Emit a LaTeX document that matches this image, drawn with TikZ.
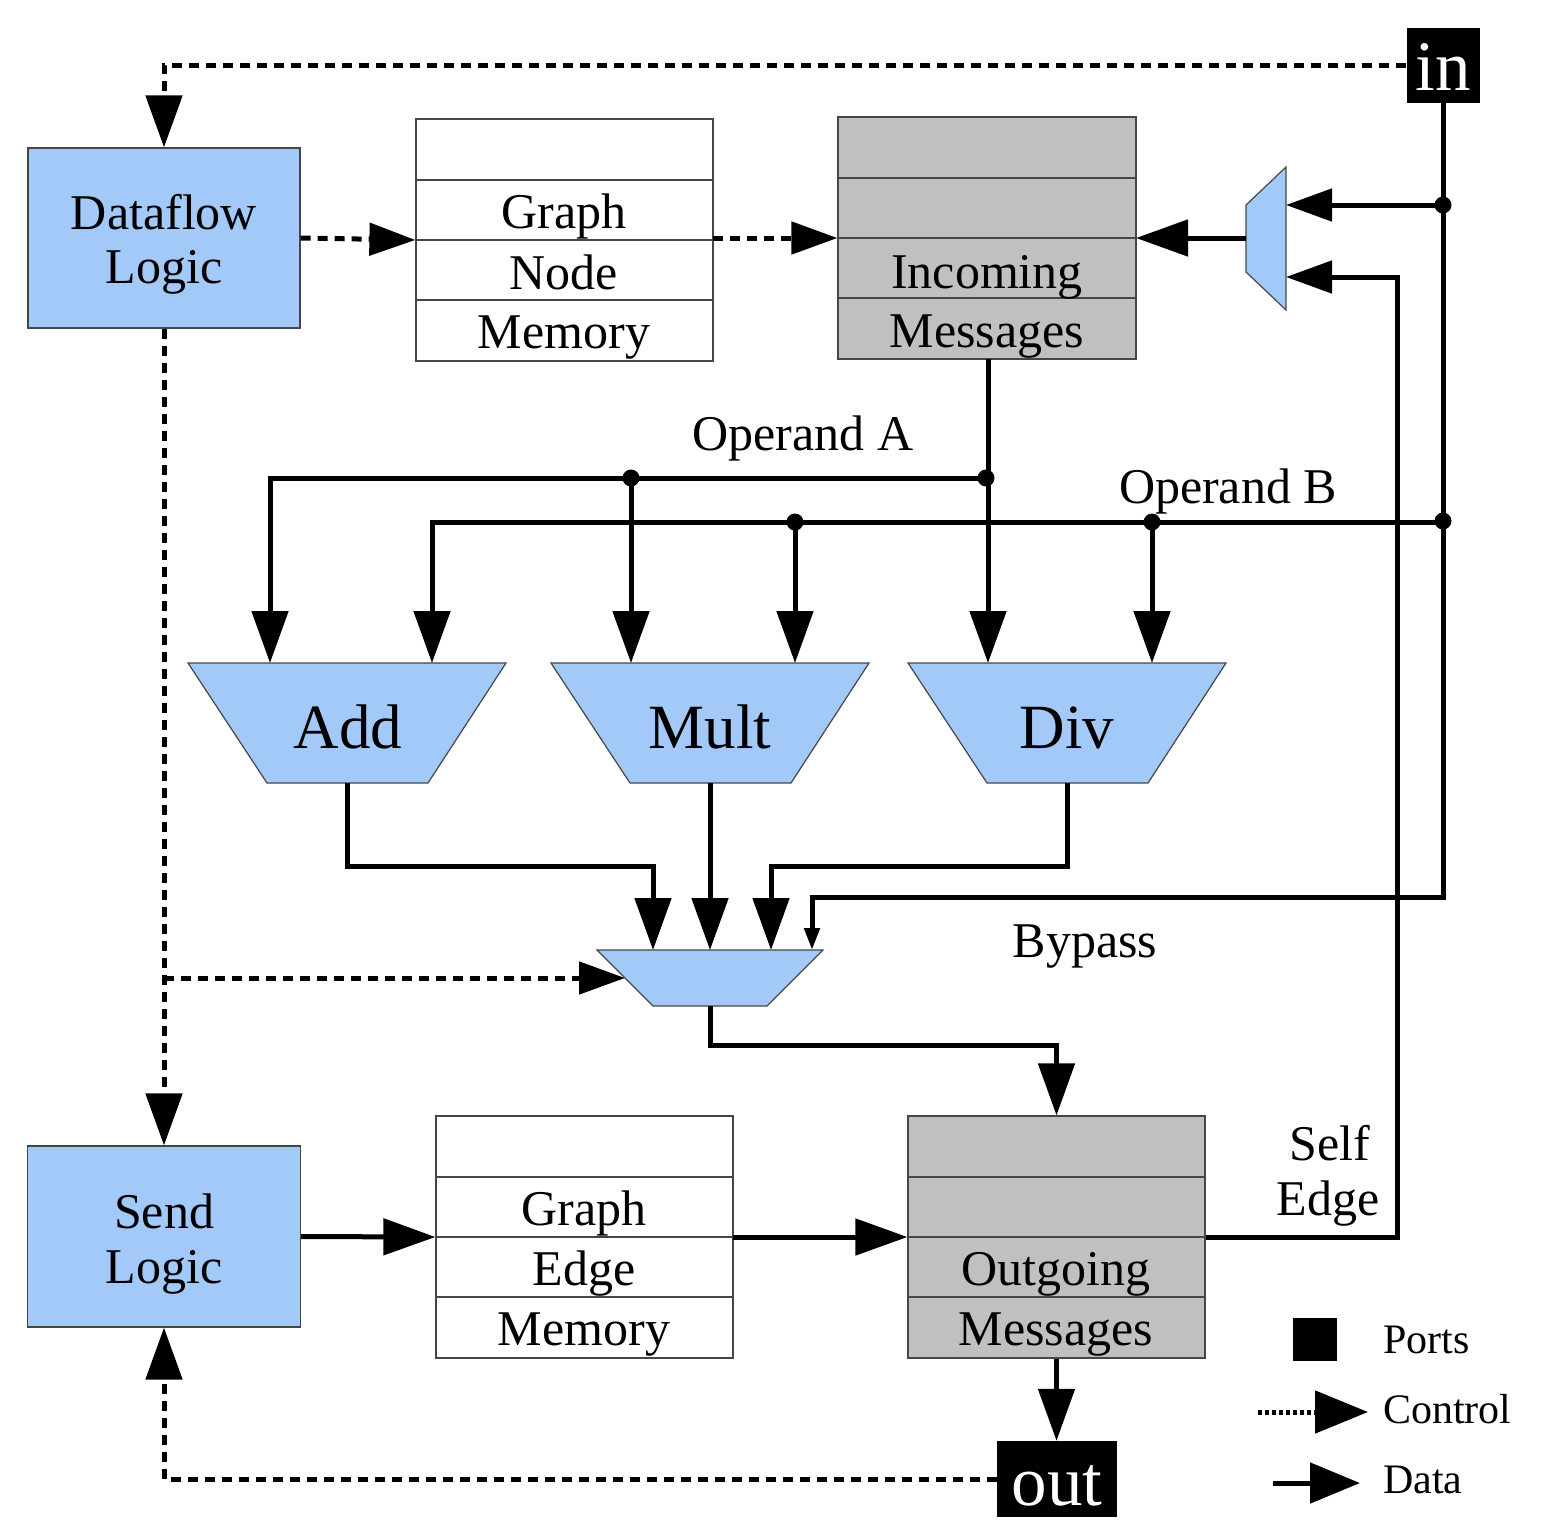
\documentclass[tikz,border=0pt]{standalone}
\usepackage{fontspec}
\setmainfont{Liberation Serif}
\usetikzlibrary{arrows.meta}
\definecolor{boxblue}{RGB}{162,201,248}
\definecolor{msggray}{RGB}{192,192,192}
\definecolor{edgegray}{RGB}{70,70,70}
\begin{document}
\begin{tikzpicture}[x=1pt,y=-1pt,
  bigtip/.tip={Triangle[length=52pt,width=36pt]},
  midtip/.tip={Triangle[length=46pt,width=32pt]},
  smalltip/.tip={Triangle[length=22pt,width=15pt]},
  data/.style={line width=5pt,-bigtip},
  datamid/.style={line width=5pt,-midtip},
  wire/.style={line width=5pt},
  ctrl/.style={line width=5pt,dash pattern=on 10pt off 7pt,-bigtip},
  ctrlmid/.style={line width=5pt,dash pattern=on 10pt off 7pt,-midtip},
  bluebox/.style={draw=edgegray,line width=1.2pt,fill=boxblue,inner sep=0pt},
  tbl/.style={draw=edgegray,line width=1.2pt,fill=white,inner sep=0pt},
  msg/.style={draw=edgegray,line width=1.2pt,fill=msggray,inner sep=0pt},
  rowline/.style={draw=edgegray,line width=1.2pt},
  port/.style={fill=black,inner sep=0pt},
  lbl/.style={font=\fontsize{50}{55}\selectfont,anchor=base,inner sep=0pt},
  biglbl/.style={font=\fontsize{63}{70}\selectfont,anchor=base,inner sep=0pt},
  portlbl/.style={font=\fontsize{71}{75}\selectfont,anchor=base,inner sep=0pt,text=white},
  leglbl/.style={font=\fontsize{42}{46}\selectfont,anchor=base west,inner sep=0pt},
  alu/.style={draw=edgegray,line width=1.2pt,fill=boxblue},
  dot/.style={circle,fill=black,inner sep=0pt,minimum size=17pt}
]
\useasboundingbox (0,0) rectangle (1544,1532);

% ---------- ports ----------
\node[port,minimum width=73pt,minimum height=75pt] (in) at (1443,65) {};
\node[portlbl] (intext) at (1443,90) {in};
\node[port,minimum width=120pt,minimum height=76pt] (out) at (1057,1479) {};
\node[portlbl] (outtext) at (1057,1505) {out};

% ---------- blue logic boxes ----------
\node[bluebox,minimum width=272pt,minimum height=180pt] (df) at (164,238) {};
\node[lbl] (dft1) at (164,229) {Dataflow};
\node[lbl] (dft2) at (164,283) {Logic};
\node[bluebox,minimum width=273pt,minimum height=181pt] (send) at (164,1236.5) {};
\node[lbl] (st1) at (164,1228) {Send};
\node[lbl] (st2) at (164,1283) {Logic};

% ---------- graph node memory ----------
\node[tbl,minimum width=297pt,minimum height=242pt] (gnm) at (564.5,240) {};
\draw[rowline] (416,180) -- (713,180) (416,240) -- (713,240) (416,300) -- (713,300);
\node[lbl] (gnm1) at (564,228) {Graph};
\node[lbl] (gnm2) at (564,289) {Node};
\node[lbl] (gnm3) at (564,348) {Memory};

% ---------- incoming messages ----------
\node[msg,minimum width=298pt,minimum height=242pt] (inc) at (987,238) {};
\draw[rowline] (838,178) -- (1136,178) (838,238) -- (1136,238) (838,298) -- (1136,298);
\node[lbl] (inc1) at (987,288) {Incoming};
\node[lbl] (inc2) at (987,347) {Messages};

% ---------- graph edge memory ----------
\node[tbl,minimum width=297pt,minimum height=242pt] (gem) at (584.5,1237) {};
\draw[rowline] (436,1177) -- (733,1177) (436,1237) -- (733,1237) (436,1297) -- (733,1297);
\node[lbl] (gem1) at (584,1225) {Graph};
\node[lbl] (gem2) at (584,1285) {Edge};
\node[lbl] (gem3) at (584,1345) {Memory};

% ---------- outgoing messages ----------
\node[msg,minimum width=297pt,minimum height=242pt] (outm) at (1056.5,1237) {};
\draw[rowline] (908,1177) -- (1205,1177) (908,1237) -- (1205,1237) (908,1297) -- (1205,1297);
\node[lbl] (out1) at (1056,1285) {Outgoing};
\node[lbl] (out2) at (1056,1345) {Messages};

% ---------- ALUs ----------
\draw[alu] (188,663) -- (506,663) -- (428,783) -- (267,783) -- cycle;
\node[biglbl] (add) at (348,748) {Add};
\draw[alu] (551,663) -- (869,663) -- (791,783) -- (630,783) -- cycle;
\node[biglbl] (mult) at (710,748) {Mult};
\draw[alu] (908,663) -- (1226,663) -- (1148,783) -- (987,783) -- cycle;
\node[biglbl] (div) at (1067,748) {Div};

% ---------- muxes ----------
\draw[alu] (1246,205) -- (1286,167) -- (1286,310) -- (1246,272) -- cycle;
\draw[alu] (597,950) -- (823,950) -- (767,1006) -- (653,1006) -- cycle;

% ---------- named connection points ----------
\coordinate (muxAin1) at (1286,205);
\coordinate (muxAin2) at (1286,277);
\coordinate (muxAout) at (1246,238);
\coordinate (muxBctl) at (625,978);
\coordinate (muxBout) at (710,1006);
\coordinate (incIn) at (1136,238);
\coordinate (incOut) at (988,359);
\coordinate (addA) at (270,663);
\coordinate (addB) at (432,663);
\coordinate (multA) at (631,663);
\coordinate (multB) at (795,663);
\coordinate (divA) at (988,663);
\coordinate (divB) at (1152,663);
\coordinate (addO) at (347,783);
\coordinate (multO) at (710,783);
\coordinate (divO) at (1067,783);
\coordinate (mux1) at (653,950);
\coordinate (mux2) at (710,950);
\coordinate (mux3) at (771,950);
\coordinate (mux4) at (812,950);
\coordinate (jIn1) at (1443,205);
\coordinate (jIn2) at (1443,521);
\coordinate (jA1) at (986,478);
\coordinate (jA2) at (631,478);
\coordinate (jB1) at (795,522);
\coordinate (jB2) at (1152,522);
\coordinate (jCtl) at (164,978);

% ---------- control connectors ----------
\draw[ctrl] (in.west) -| (df.north);
\draw[ctrlmid] (df.east) -- (gnm.west);
\draw[ctrlmid] (713,238) -- (inc.west);
\draw[ctrl] (df.south) -- (send.north);
\draw[ctrlmid] (jCtl) -- (muxBctl);
\draw[ctrl] (out.west) -| (send.south);

% ---------- data connectors ----------
\draw[wire] (in.south) |- (812,897) -- (812,925);
\draw[line width=5pt,-smalltip] (812,920) -- (mux4);
\draw[datamid] (jIn1) -- (muxAin1);
\draw[datamid] (outm.east) -- (1397,1237) -- (1397,277) -- (muxAin2);
\draw[data] (muxAout) -- (incIn);
\draw[data] (incOut) -- (divA);
\draw[data] (jA1) -- (270,478) -- (addA);
\draw[data] (jA2) -- (multA);
\draw[data] (1443,522) -- (432,522) -- (addB);
\draw[data] (jB1) -- (multB);
\draw[data] (jB2) -- (divB);
\draw[data] (addO) -- (347,866) -- (653,866) -- (mux1);
\draw[data] (multO) -- (mux2);
\draw[data] (divO) -- (1067,866) -- (771,866) -- (mux3);
\draw[data] (muxBout) -- (710,1045) -| (outm.north);
\draw[data] (send.east) -- (gem.west);
\draw[data] (733,1237) -- (outm.west);
\draw[data] (outm.south) -- (outm.south |- out.north);

% ---------- junction dots ----------
\foreach \p in {jIn1,jIn2,jA1,jA2,jB1,jB2} \node[dot] at (\p) {};

% ---------- labels ----------
\node[lbl] (opA) at (803,450) {Operand A};
\node[lbl] (opB) at (1228,503) {Operand B};
\node[lbl] (byp) at (1085,957) {Bypass};
\node[lbl] (self1) at (1330,1160) {Self};
\node[lbl] (self2) at (1328,1215) {Edge};

% ---------- legend ----------
\node[port,minimum width=44pt,minimum height=43pt] (legport) at (1315,1339.5) {};
\node[leglbl] (legp) at (1383,1353) {Ports};
\coordinate (lc1) at (1258,1412);
\coordinate (lc2) at (1368,1412);
\draw[line width=5pt,dash pattern=on 4pt off 3pt] (lc1) -- (1316,1412);
\draw[line width=5pt,-{Triangle[length=53pt,width=42pt]}] (1314,1412) -- (lc2);
\node[leglbl] (legc) at (1383,1423) {Control};
\coordinate (ld1) at (1273,1483);
\coordinate (ld2) at (1360,1483);
\draw[line width=5pt,-{Triangle[length=50pt,width=40pt]}] (ld1) -- (ld2);
\node[leglbl] (legd) at (1383,1493) {Data};
\end{tikzpicture}
\end{document}
